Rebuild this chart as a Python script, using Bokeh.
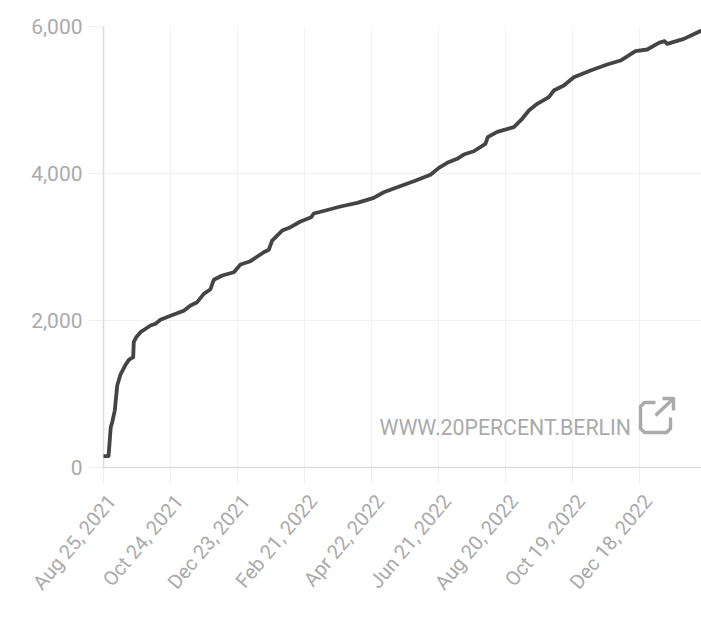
from math import radians
from bokeh.embed import file_html
from bokeh.models import ColumnDataSource, FixedTicker, Label, LinearAxis, Range1d
from bokeh.plotting import figure
from bokeh.resources import INLINE

days = [0, 4.5, 6.5, 7.8, 10.1, 12.3, 15.2, 19.7, 22.7, 26.6, 27.1, 29.3, 33.1, 39.1, 42.1, 46.6, 51, 60,
        71.9, 77.9, 83.9, 89.8, 95.8, 98.8, 106.3, 116.7, 122.7, 131.6, 143.5, 148, 151, 160, 167.5, 176.4,
        186, 188.3, 198.8, 212.2, 227.2, 242, 251, 263, 277.9, 292.8, 300.3, 307.8, 316.7, 322.6, 331.6,
        342, 344.1, 352.6, 367.4, 374.9, 380.9, 388.4, 398.8, 403.2, 412.2, 421.2, 436.1, 451, 463, 476.4,
        486.9, 497.3, 502.4, 504.8, 519.7, 535.5]
values = [156, 156, 548, 616, 775, 1116, 1265, 1397, 1465, 1501, 1705, 1773, 1841, 1901, 1932, 1955, 2009, 2064,
          2132, 2204, 2249, 2363, 2426, 2555, 2612, 2657, 2762, 2807, 2929, 2962, 3088, 3224, 3269, 3347,
          3405, 3456, 3497, 3551, 3601, 3669, 3745, 3813, 3895, 3982, 4077, 4145, 4200, 4258, 4303,
          4404, 4494, 4567, 4630, 4744, 4857, 4948, 5038, 5129, 5197, 5310, 5401, 5483, 5537, 5664,
          5687, 5778, 5800, 5764, 5832, 5945]
x_ticks = [0, 60, 120, 180, 240, 300, 360, 420, 480]
x_labels = ["Aug 25, 2021", "Oct 24, 2021", "Dec 23, 2021", "Feb 21, 2022", "Apr 22, 2022",
            "Jun 21, 2022", "Aug 20, 2022", "Oct 19, 2022", "Dec 18, 2022"]
y_ticks = [0, 2000, 4000, 6000]
y_labels = ["0", "2,000", "4,000", "6,000"]

GREY = "#aaaaaa"
LABEL_SHIFT = 7.5  # labels sit a little to the right of their ticks

p = figure(width=701, height=629, output_backend="svg", toolbar_location=None,
           x_range=Range1d(0, 535.5), y_range=Range1d(0, 6000),
           min_border_left=103, min_border_right=0, min_border_top=26, min_border_bottom=162)
p.outline_line_color = None
p.extra_x_ranges = {"labels": Range1d(-LABEL_SHIFT, 535.5 - LABEL_SHIFT)}

p.xaxis.ticker = FixedTicker(ticks=x_ticks)
p.xaxis.major_label_overrides = {t: "" for t in x_ticks}
p.xaxis.major_tick_out = 16
p.xaxis.major_tick_in = 0
p.xaxis.major_tick_line_color = "#eeeeee"
p.xaxis.minor_tick_line_color = None
p.xaxis.axis_line_color = "#dddddd"
p.xaxis.axis_line_width = 1.6
p.xaxis.major_label_standoff = 0

label_axis = LinearAxis(x_range_name="labels", ticker=FixedTicker(ticks=x_ticks),
                        major_label_overrides=dict(zip(x_ticks, x_labels)),
                        major_label_orientation=radians(50), major_label_standoff=14,
                        major_tick_line_color=None, minor_tick_line_color=None, axis_line_color=None,
                        major_tick_out=0, major_tick_in=0,
                        major_label_text_font="Roboto", major_label_text_font_size="20px",
                        major_label_text_color=GREY, major_label_text_font_style="normal")
p.add_layout(label_axis, "below")

p.yaxis.ticker = FixedTicker(ticks=y_ticks)
p.yaxis.major_label_overrides = dict(zip(y_ticks, y_labels))
p.yaxis.major_tick_out = 15
p.yaxis.major_tick_in = 0
p.yaxis.major_tick_line_color = "#eeeeee"
p.yaxis.minor_tick_line_color = None
p.yaxis.axis_line_color = "#dddddd"
p.yaxis.axis_line_width = 1.6
p.yaxis.major_label_standoff = 6
p.yaxis.major_label_text_font = "Roboto"
p.yaxis.major_label_text_font_size = "21px"
p.yaxis.major_label_text_color = GREY
p.yaxis.major_label_text_font_style = "normal"

p.xgrid.ticker = FixedTicker(ticks=x_ticks)
p.ygrid.ticker = FixedTicker(ticks=y_ticks)
p.xgrid.grid_line_color = "#f1f1f1"
p.ygrid.grid_line_color = "#f1f1f1"

src = ColumnDataSource(dict(day=days, value=values))
p.line("day", "value", source=src, line_color="#444444", line_width=3.8, line_join="round", level="overlay")

# link icon and site name, placed by pixel position on the page
def dx(px): return (px - 103) * 535.5 / 598
def dy(py): return (467 - py) * 6000 / 441

p.add_layout(Label(x=dx(379), y=dy(439), text="WWW.20PERCENT.BERLIN",
                   text_font="Roboto", text_font_size="21.3px", text_color=GREY))

box = [(655, 402), (644, 402), (640, 406), (640, 428), (644, 432), (666, 432), (670, 428), (670, 417)]
arrow = [(655, 415), (673, 398)]
head = [(662, 398), (673, 398), (673, 410)]
for path in (box, arrow, head):
    p.line([dx(a) for a, _ in path], [dy(b) for _, b in path], line_color=GREY, line_width=3.4,
           line_join="round")

open("out.html", "w").write(file_html(p, INLINE))
